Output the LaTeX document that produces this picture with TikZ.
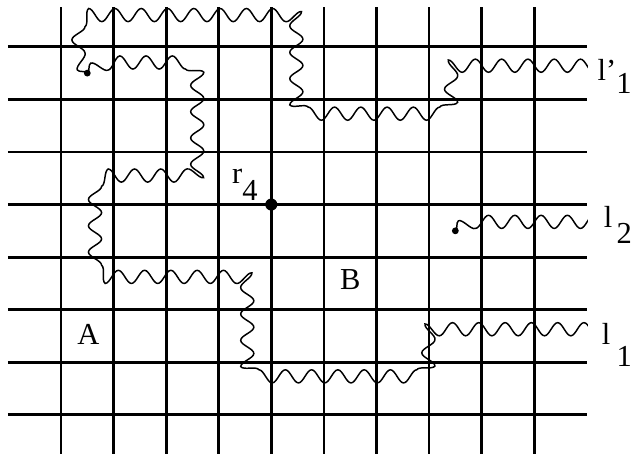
\documentclass[tikz,border=0pt]{standalone}
\usepackage{fontspec}
\setmainfont{Liberation Serif}
\usepackage{tikz}
\usetikzlibrary{decorations.pathmorphing}

\begin{document}
\begin{tikzpicture}[scale=0.2]
                \tikzstyle{every node}+=[inner sep=0pt]
                \tikzstyle{gridline}=[black, line width=1.5pt]
                \tikzstyle{wavy}=[black, line width=0.8pt, decoration={snake, amplitude=0.125cm, segment length=0.5cm}]
                \tikzstyle{endpt}=[circle, fill=black, minimum size=0.13cm]
                \tikzstyle{bigpt}=[circle, fill=black, minimum size=0.23cm]
                \tikzstyle{lab}=[font=\fontsize{16.5}{18}\selectfont]
                \useasboundingbox (-5.8,4.45) rectangle (54.3,-38.82);
                \draw [gridline] (0,3.78) -- (0,-38.7);
                \draw [gridline] (5,3.78) -- (5,-38.7);
                \draw [gridline] (10,3.78) -- (10,-38.7);
                \draw [gridline] (15,3.78) -- (15,-38.7);
                \draw [gridline] (20,3.78) -- (20,-38.7);
                \draw [gridline] (25,3.78) -- (25,-38.7);
                \draw [gridline] (30,3.78) -- (30,-38.7);
                \draw [gridline] (35,3.78) -- (35,-38.7);
                \draw [gridline] (40,3.78) -- (40,-38.7);
                \draw [gridline] (45,3.78) -- (45,-38.7);
                \draw [gridline] (-5.05,0) -- (50,0);
                \draw [gridline] (-5.05,-5) -- (50,-5);
                \draw [gridline] (-5.05,-10) -- (50,-10);
                \draw [gridline] (-5.05,-15) -- (50,-15);
                \draw [gridline] (-5.05,-20) -- (50,-20);
                \draw [gridline] (-5.05,-25) -- (50,-25);
                \draw [gridline] (-5.05,-30) -- (50,-30);
                \draw [gridline] (-5.05,-35) -- (50,-35);
                \node [endpt] (d1) at (2.5,-2.5) {};
                \node [endpt] (d3) at (37.5,-17.5) {};
                \node [bigpt] (r) at (20,-15) {};
                \coordinate (e1) at (53,-3.08);
                \coordinate (e2) at (53,-26.84);
                \coordinate (e3) at (53,-16.89);
                \begin{scope}
                \clip (-6,5) rectangle (50.1,-40);
                \draw [wavy] decorate {[rounded corners=0.2cm] (d1.center) -- (1.9,-1.6) -- (1.9,1.93) -- (23.1,1.93) -- (23.1,-8.05) -- (36.9,-8.05) -- (36.9,-3.08) -- (e1)};
                \draw [wavy] decorate {[rounded corners=0.2cm] (d1.center) -- (3.6,-1.8) -- (11.93,-1.8) -- (11.93,-13.17) -- (1.9,-13.17) -- (1.9,-21.79) -- (16.88,-21.79) -- (16.88,-31.79) -- (33.18,-31.79) -- (33.18,-26.84) -- (e2)};
                \draw [wavy] decorate {[rounded corners=0.2cm] (d3.center) -- (38.4,-16.89) -- (e3)};
                \end{scope}
                \node [lab, anchor=base west] (lp1) at (51.0,-3.2) {l’\raisebox{-0.25cm}{1}};
                \node [lab, anchor=base west] (l2) at (51.6,-17.17) {l\hspace{0.08cm}\raisebox{-0.3cm}{2}};
                \node [lab, anchor=base west] (l1) at (51.4,-28.3) {l\hspace{0.12cm}\raisebox{-0.42cm}{1}};
                \node [lab, anchor=base west] (r4) at (16.25,-12.98) {r\raisebox{-0.32cm}{4}};
                \node [lab] (A) at (2.61,-27.31) {A};
                \node [lab] (B) at (27.52,-22.12) {B};
            \end{tikzpicture}
\end{document}
